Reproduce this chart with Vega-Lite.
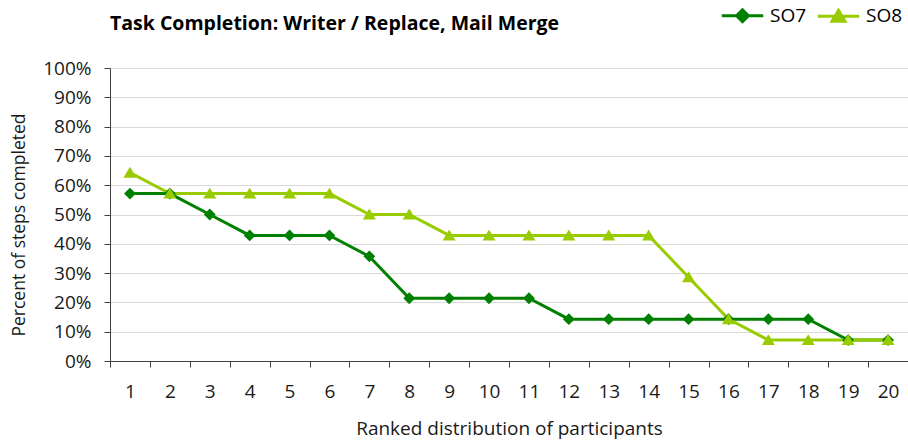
{
  "$schema": "https://vega.github.io/schema/vega-lite/v6.json",
  "width": 798,
  "height": 293,
  "autosize": {"type": "none"},
  "padding": {"left": 110, "top": 68, "right": 0, "bottom": 79},
  "background": "white",
  "config": {
    "font": "Open Sans",
    "view": {"stroke": null},
    "axis": {"labelFont": "Open Sans", "titleFont": "Open Sans", "labelColor": "#1a1a1a", "titleColor": "#1a1a1a", "titleFontWeight": "normal"}
  },
  "title": {
    "text": "Task Completion: Writer / Replace, Mail Merge",
    "anchor": "start",
    "frame": "group",
    "dx": 0,
    "offset": -28,
    "fontSize": 19.5,
    "fontWeight": "bold",
    "font": "Open Sans",
    "color": "#000000"
  },
  "data": {
    "values": [
      {"rank": 1, "series": "SO7", "pct": 0.5714},
      {"rank": 2, "series": "SO7", "pct": 0.5714},
      {"rank": 3, "series": "SO7", "pct": 0.5},
      {"rank": 4, "series": "SO7", "pct": 0.4286},
      {"rank": 5, "series": "SO7", "pct": 0.4286},
      {"rank": 6, "series": "SO7", "pct": 0.4286},
      {"rank": 7, "series": "SO7", "pct": 0.3571},
      {"rank": 8, "series": "SO7", "pct": 0.2143},
      {"rank": 9, "series": "SO7", "pct": 0.2143},
      {"rank": 10, "series": "SO7", "pct": 0.2143},
      {"rank": 11, "series": "SO7", "pct": 0.2143},
      {"rank": 12, "series": "SO7", "pct": 0.1429},
      {"rank": 13, "series": "SO7", "pct": 0.1429},
      {"rank": 14, "series": "SO7", "pct": 0.1429},
      {"rank": 15, "series": "SO7", "pct": 0.1429},
      {"rank": 16, "series": "SO7", "pct": 0.1429},
      {"rank": 17, "series": "SO7", "pct": 0.1429},
      {"rank": 18, "series": "SO7", "pct": 0.1429},
      {"rank": 19, "series": "SO7", "pct": 0.0714},
      {"rank": 20, "series": "SO7", "pct": 0.0714},
      {"rank": 1, "series": "SO8", "pct": 0.6429},
      {"rank": 2, "series": "SO8", "pct": 0.5714},
      {"rank": 3, "series": "SO8", "pct": 0.5714},
      {"rank": 4, "series": "SO8", "pct": 0.5714},
      {"rank": 5, "series": "SO8", "pct": 0.5714},
      {"rank": 6, "series": "SO8", "pct": 0.5714},
      {"rank": 7, "series": "SO8", "pct": 0.5},
      {"rank": 8, "series": "SO8", "pct": 0.5},
      {"rank": 9, "series": "SO8", "pct": 0.4286},
      {"rank": 10, "series": "SO8", "pct": 0.4286},
      {"rank": 11, "series": "SO8", "pct": 0.4286},
      {"rank": 12, "series": "SO8", "pct": 0.4286},
      {"rank": 13, "series": "SO8", "pct": 0.4286},
      {"rank": 14, "series": "SO8", "pct": 0.4286},
      {"rank": 15, "series": "SO8", "pct": 0.2857},
      {"rank": 16, "series": "SO8", "pct": 0.1429},
      {"rank": 17, "series": "SO8", "pct": 0.0714},
      {"rank": 18, "series": "SO8", "pct": 0.0714},
      {"rank": 19, "series": "SO8", "pct": 0.0714},
      {"rank": 20, "series": "SO8", "pct": 0.0714}
    ]
  },
  "encoding": {
    "x": {
      "field": "rank",
      "type": "ordinal",
      "bandPosition": 0.5,
      "scale": {"type": "band", "paddingInner": 0, "paddingOuter": 0},
      "axis": {
        "title": "Ranked distribution of participants",
        "titleFontSize": 19,
        "titlePadding": 18,
        "labelAngle": 0,
        "labelFontSize": 19,
        "labelPadding": 15,
        "tickBand": "extent",
        "tickSize": 6,
        "tickColor": "#404040",
        "domainColor": "#404040",
        "grid": false
      }
    },
    "y": {
      "field": "pct",
      "type": "quantitative",
      "scale": {"domain": [0, 1], "nice": false},
      "axis": {
        "title": "Percent of steps completed",
        "format": ".0%",
        "values": [0, 0.1, 0.2, 0.3, 0.4, 0.5, 0.6, 0.7, 0.8, 0.9, 1],
        "titleFontSize": 17.5,
        "titlePadding": 14,
        "titleY": 156.5,
        "labelFontSize": 19,
        "labelPadding": 13,
        "tickSize": 6,
        "tickColor": "#404040",
        "domainColor": "#404040",
        "gridColor": "#d9d9d9",
        "gridWidth": 1
      }
    },
    "color": {
      "field": "series",
      "type": "nominal",
      "scale": {"domain": ["SO7", "SO8"], "range": ["#008000", "#99CC00"]},
      "legend": {
        "title": null,
        "orient": "none",
        "legendX": 623,
        "legendY": -62,
        "direction": "horizontal",
        "labelFontSize": 19,
        "labelFont": "Open Sans",
        "labelColor": "#000000",
        "labelOffset": 18,
        "symbolSize": 140,
        "columnPadding": 4,
        "symbolStrokeWidth": 3
      }
    }
  },
  "layer": [
    {
      "mark": {"type": "line", "strokeWidth": 3}
    },
    {
      "mark": {"type": "point", "filled": true, "size": 140, "opacity": 1, "strokeWidth": 0},
      "encoding": {
        "shape": {
          "field": "series",
          "type": "nominal",
          "scale": {"domain": ["SO7", "SO8"], "range": ["M-3.5,0L3.5,0M0,-1L1,0L0,1L-1,0Z", "M-3.5,0L3.5,0M0,-1L1.1,0.85L-1.1,0.85Z"]},
          "legend": {
            "title": null,
            "orient": "none",
            "legendX": 623,
            "legendY": -62,
            "direction": "horizontal",
            "labelFontSize": 19,
            "labelFont": "Open Sans",
            "labelColor": "#000000",
            "labelOffset": 18,
            "symbolSize": 140,
            "columnPadding": 4,
            "symbolStrokeWidth": 3
          }
        }
      }
    }
  ]
}
